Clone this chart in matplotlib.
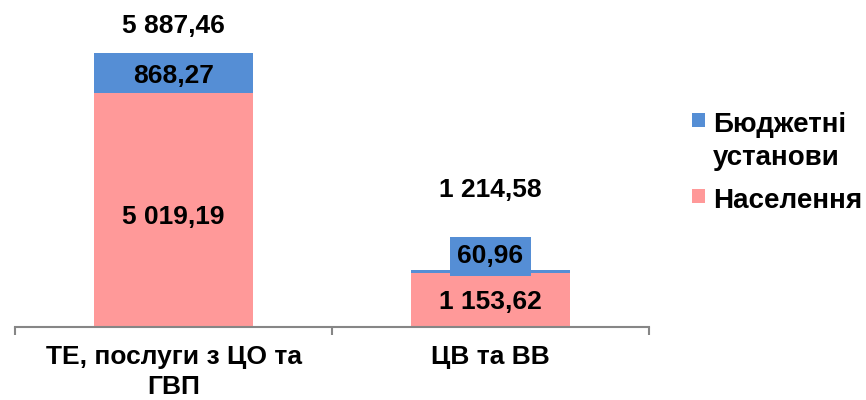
import matplotlib.pyplot as plt
from matplotlib.patches import Rectangle
import numpy as np

# Data
categories = [["ТЕ, послуги з ЦО та", "ГВП"], ["ЦВ та ВВ"]]
naselennia = [5019.19, 1153.62]
biudzhetni = [868.27, 60.96]
totals = [5887.46, 1214.58]
series_names = [["Бюджетні", "установи"], ["Населення"]]

def fmt(v):
    s = f"{v:,.2f}"
    return s.replace(",", " ").replace(".", ",")

blue = "#558ED5"
pink = "#FF9999"
fs = 19

plt.rcParams['font.family'] = ['Liberation Sans', 'DejaVu Sans']
plt.rcParams['font.weight'] = 'bold'

W, H = 866, 400
fig = plt.figure(figsize=(W / 100, H / 100), dpi=100)
ax = fig.add_axes([15 / W, 1 - 327 / H, (649 - 15) / W, 317 / H])

x = np.arange(len(categories))
w = 0.5
b1 = ax.bar(x, naselennia, w, color=pink)
b2 = ax.bar(x, biudzhetni, w, bottom=naselennia, color=blue)

ax.set_xlim(-0.5, 1.5)
ax.set_ylim(0, 317 / 0.04654)

for s in ["top", "right", "left"]:
    ax.spines[s].set_visible(False)
ax.spines["bottom"].set_color("#868686")
ax.spines["bottom"].set_linewidth(1.5)
ax.set_yticks([])
ax.set_xticks([-0.5, 0.5, 1.5])
ax.set_xticklabels([])
ax.tick_params(axis="x", direction="out", length=6, width=1.5, color="#868686")

# category labels, one line each
for i, lines in enumerate(categories):
    for j, line in enumerate(lines):
        ax.annotate(line, (x[i], 0), xytext=(0, -37 - 30 * j), textcoords="offset pixels",
                    ha="center", va="baseline", fontsize=fs, fontweight="bold",
                    annotation_clip=False)

# segment labels (baseline offsets in pixels from segment centre)
pink_off = [-14, -9]
for i in range(len(x)):
    ax.annotate(fmt(naselennia[i]), (x[i], naselennia[i] / 2), xytext=(0, pink_off[i]),
                textcoords="offset pixels", ha="center", va="baseline", fontsize=fs, fontweight="bold")

ax.annotate(fmt(biudzhetni[0]), (x[0], naselennia[0] + biudzhetni[0] / 2), xytext=(0, -10),
            textcoords="offset pixels", ha="center", va="baseline", fontsize=fs, fontweight="bold")
ax.annotate(fmt(biudzhetni[1]), (x[1], totals[1]), xytext=(0, 7), textcoords="offset pixels",
            ha="center", va="baseline", fontsize=fs, fontweight="bold",
            bbox=dict(boxstyle="square,pad=0.3", fc=blue, ec="none"))

# totals
total_off = [20, 73]
for i in range(len(x)):
    ax.annotate(fmt(totals[i]), (x[i], totals[i]), xytext=(0, total_off[i]),
                textcoords="offset pixels", ha="center", va="baseline", fontsize=fs, fontweight="bold")

# legend drawn by hand to keep the marker on the first line
leg_colors = [blue, pink]
leg_top = [113, 189]
for k, name in enumerate(series_names):
    fig.add_artist(Rectangle((692 / W, 1 - (leg_top[k] + 14) / H), 13 / W, 14 / H,
                             transform=fig.transFigure, color=leg_colors[k], lw=0))
    for j, line in enumerate(name):
        fig.text(713 / W, 1 - (leg_top[k] + 19 + 33 * j) / H, line, ha="left", va="baseline",
                 fontsize=20, fontweight="bold")

fig.savefig("out.png", dpi=100)
